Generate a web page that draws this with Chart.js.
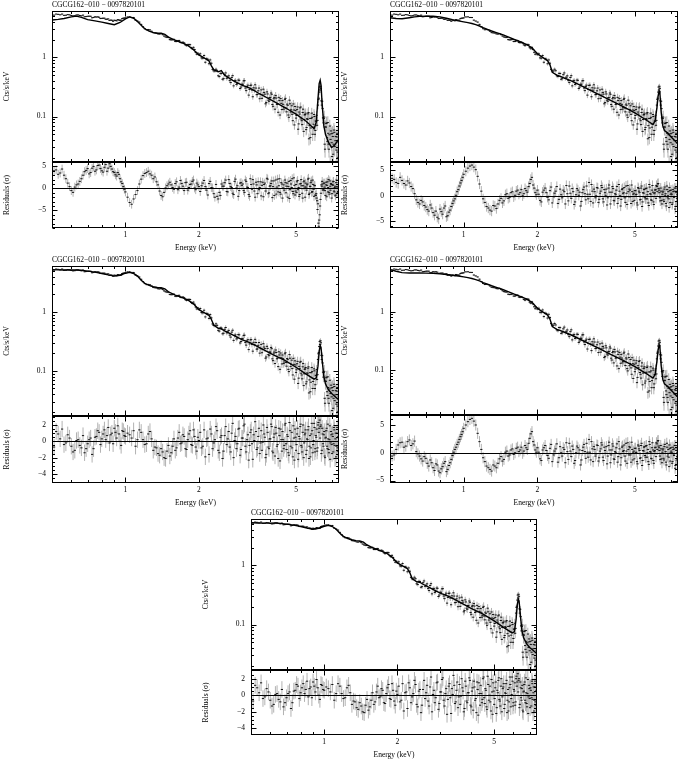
<!DOCTYPE html>
<html>
<head>
<meta charset="utf-8">
<script src="https://cdn.jsdelivr.net/npm/chart.js@4.4.1/dist/chart.umd.min.js"></script>
<style>
  body { margin: 0; background: #fff; width: 678px; height: 761px; position: relative; overflow: hidden; }
  canvas { position: absolute; }
</style>
</head>
<body>
<script>
// ---- data ----
const obsTitle = 'CGCG162\u2212010 \u2212 0097820101';
const xTicks = [1, 2, 5];
const yTicks = [0.1, 1];
const residTicksWide = [-5, 0, 5];
const residTicksNarrow = [-4, -2, 0, 2];

// spectrum bins (keV), first set
const energy = [
  0.50,0.52,0.54,0.56,0.58,0.60,0.62,0.64,0.66,0.68,0.70,0.72,0.74,0.76,0.78,0.80,0.82,0.84,0.86,0.88,0.90,0.92,0.94,0.96,0.98,1.00,
  1.04,1.08,1.12,1.16,1.20,1.24,1.28,1.32,1.36,1.40,1.44,1.48,1.52,1.56,1.60,1.64,1.68,1.72,1.76,1.80,1.84,1.88,1.92,1.96,2.00,
  2.05,2.10,2.15,2.20,2.25,2.30,2.35,2.40,2.45,2.50,2.55,2.60,2.65,2.70,2.75,2.80,2.85,2.90,2.95,3.00,
  3.05,3.10,3.15,3.20,3.25,3.30,3.35,3.40,3.45,3.50,3.55,3.60,3.65,3.70,3.75,3.80,3.85,3.90,3.95,4.00,
  4.05,4.10,4.15,4.20,4.25,4.30,4.35,4.40,4.45,4.50,4.55,4.60,4.65,4.70,4.75,4.80,4.85,4.90,4.95,5.00,
  5.05,5.10,5.15,5.20,5.25,5.30,5.35,5.40,5.45,5.50,5.55,5.60,5.65,5.70,5.75,5.80,5.85,5.90,5.95,6.00,
  6.05,6.10,6.15,6.20,6.25,6.30,6.35,6.40,6.45,6.50,6.55,6.60,6.65,6.70,6.75,6.80,6.85,6.90,6.95,7.00,
  7.05,7.10,7.15,7.20,7.25,7.30,7.35,7.40,7.45,7.50
];
// counts/s/keV
const counts = [
  5.37,5.41,5.26,5.15,5.30,5.12,5.08,5.23,5.05,4.87,4.96,4.97,4.74,4.82,4.78,4.58,4.61,4.43,4.23,4.25,4.26,4.16,4.29,4.27,4.61,4.67,
  4.86,4.73,4.12,3.62,3.06,2.96,2.77,2.60,2.50,2.53,2.30,2.19,2.00,1.99,1.86,1.91,1.79,1.81,1.63,1.64,1.64,1.40,1.36,1.13,1.11,
  0.982,1.076,0.950,0.781,0.797,0.592,0.631,0.489,0.538,0.427,
  0.510,0.443,0.488,0.375,0.491,0.399,0.349,0.414,0.298,0.352,
  0.401,0.303,0.323,0.230,0.336,0.280,0.306,0.344,0.234,0.272,
  0.200,0.282,0.231,0.254,0.164,0.261,0.189,0.210,0.250,0.160,
  0.200,0.133,0.205,0.164,0.211,0.106,0.167,0.186,0.133,0.195,
  0.139,0.162,0.106,0.189,0.119,0.152,0.085,0.129,0.148,0.094,
  0.132,0.061,0.119,0.140,0.091,0.073,0.133,0.089,0.108,0.060,
  0.092,0.111,0.042,0.093,0.064,0.114,0.050,0.074,0.100,0.058,
  0.083,0.071,0.156,0.204,0.315,0.325,0.184,0.181,0.095,0.093,
  0.034,0.067,0.076,0.044,0.079,0.034,0.049,0.017,0.057,0.036,
  0.052,0.023,0.059,0.031,0.039,0.014,0.045,0.025,0.039,0.021
];
// relative 1-sigma errors
const relErr = [
  0.025,0.025,0.025,0.025,0.025,0.025,0.025,0.025,0.025,0.025,0.025,0.025,0.025,0.025,0.025,0.025,0.025,0.025,0.025,0.025,0.025,0.025,0.025,0.025,0.025,0.025,
  0.03,0.03,0.03,0.03,0.03,0.03,0.03,0.03,0.03,0.03,0.04,0.04,0.04,0.04,0.04,0.04,0.04,0.04,0.04,0.05,0.05,0.05,0.05,0.05,0.05,
  0.07,0.07,0.07,0.07,0.07,0.07,0.07,0.07,0.07,0.07,
  0.09,0.09,0.09,0.09,0.09,0.09,0.09,0.09,0.09,0.09,
  0.11,0.11,0.11,0.11,0.11,0.11,0.11,0.11,0.11,0.11,
  0.13,0.13,0.13,0.13,0.13,0.13,0.13,0.13,0.13,0.13,
  0.15,0.15,0.15,0.15,0.15,0.15,0.15,0.15,0.15,0.15,
  0.17,0.17,0.17,0.17,0.17,0.17,0.17,0.17,0.17,0.17,
  0.20,0.20,0.20,0.20,0.20,0.20,0.20,0.20,0.20,0.20,
  0.23,0.23,0.23,0.23,0.23,0.23,0.23,0.23,0.23,0.23,
  0.20,0.18,0.15,0.12,0.10,0.10,0.11,0.13,0.16,0.20,
  0.28,0.28,0.28,0.28,0.28,0.28,0.28,0.28,0.28,0.28,
  0.32,0.32,0.32,0.32,0.32,0.32,0.32,0.32,0.32,0.32
];

// second set of bins, lying between the first ones
const energyOdd = [
  0.51,0.53,0.55,0.57,0.59,0.61,0.63,0.65,0.67,0.69,0.71,0.73,0.75,0.77,0.79,0.81,0.83,0.85,0.87,0.89,0.91,0.93,0.95,0.97,0.99,
  1.02,1.06,1.10,1.14,1.18,1.22,1.26,1.30,1.34,1.38,1.42,1.46,1.50,1.54,1.58,1.62,1.66,1.70,1.74,1.78,1.82,1.86,1.90,1.94,1.98,
  2.025,2.075,2.125,2.175,2.225,2.275,2.325,2.375,2.425,2.475,2.525,2.575,2.625,2.675,2.725,2.775,2.825,2.875,2.925,2.975,
  3.025,3.075,3.125,3.175,3.225,3.275,3.325,3.375,3.425,3.475,3.525,3.575,3.625,3.675,3.725,3.775,3.825,3.875,3.925,3.975,
  4.025,4.075,4.125,4.175,4.225,4.275,4.325,4.375,4.425,4.475,4.525,4.575,4.625,4.675,4.725,4.775,4.825,4.875,4.925,4.975,
  5.025,5.075,5.125,5.175,5.225,5.275,5.325,5.375,5.425,5.475,5.525,5.575,5.625,5.675,5.725,5.775,5.825,5.875,5.925,5.975,
  6.025,6.075,6.125,6.175,6.225,6.275,6.325,6.375,6.425,6.475,6.525,6.575,6.625,6.675,6.725,6.775,6.825,6.875,6.925,6.975,
  7.025,7.075,7.125,7.175,7.225,7.275,7.325,7.375,7.425,7.475
];
const countsOdd = [
  5.19,5.35,5.41,5.17,5.25,5.04,5.22,5.12,5.19,4.91,4.98,4.68,4.86,4.85,4.55,4.60,4.42,4.48,4.28,4.09,4.22,4.36,4.25,4.54,4.62,
  4.84,4.74,4.27,3.96,3.30,2.94,2.92,2.63,2.58,2.48,2.43,2.22,2.18,1.98,2.02,1.86,1.93,1.77,1.76,1.58,1.65,1.46,1.48,1.22,1.18,
  1.152,0.968,0.828,0.930,0.906,0.628,0.588,0.595,0.474,0.535,
  0.437,0.546,0.462,0.405,0.456,0.330,0.409,0.362,0.410,0.315,
  0.351,0.404,0.274,0.339,0.287,0.340,0.216,0.279,0.303,0.236,
  0.303,0.238,0.203,0.290,0.239,0.172,0.241,0.181,0.207,0.238,
  0.149,0.209,0.226,0.160,0.118,0.186,0.201,0.131,0.161,0.141,
  0.203,0.120,0.155,0.097,0.164,0.130,0.109,0.163,0.072,0.126,
  0.104,0.145,0.075,0.110,0.145,0.085,0.117,0.056,0.106,0.114,
  0.065,0.089,0.117,0.070,0.044,0.093,0.097,0.066,0.108,0.050,
  0.084,0.105,0.086,0.195,0.259,0.281,0.300,0.156,0.136,0.078,
  0.098,0.028,0.066,0.078,0.038,0.052,0.028,0.069,0.041,0.051,
  0.021,0.046,0.034,0.054,0.012,0.046,0.027,0.052,0.020,0.036
];
const relErrOdd = [
  0.025,0.025,0.025,0.025,0.025,0.025,0.025,0.025,0.025,0.025,0.025,0.025,0.025,0.025,0.025,0.025,0.025,0.025,0.025,0.025,0.025,0.025,0.025,0.025,0.025,
  0.03,0.03,0.03,0.03,0.03,0.03,0.03,0.03,0.03,0.03,0.04,0.04,0.04,0.04,0.04,0.04,0.04,0.04,0.04,0.05,0.05,0.05,0.05,0.05,0.05,
  0.07,0.07,0.07,0.07,0.07,0.07,0.07,0.07,0.07,0.07,
  0.09,0.09,0.09,0.09,0.09,0.09,0.09,0.09,0.09,0.09,
  0.11,0.11,0.11,0.11,0.11,0.11,0.11,0.11,0.11,0.11,
  0.13,0.13,0.13,0.13,0.13,0.13,0.13,0.13,0.13,0.13,
  0.15,0.15,0.15,0.15,0.15,0.15,0.15,0.15,0.15,0.15,
  0.17,0.17,0.17,0.17,0.17,0.17,0.17,0.17,0.17,0.17,
  0.20,0.20,0.20,0.20,0.20,0.20,0.20,0.20,0.20,0.20,
  0.23,0.23,0.23,0.23,0.23,0.23,0.23,0.23,0.23,0.23,
  0.20,0.19,0.17,0.13,0.11,0.10,0.10,0.12,0.15,0.18,
  0.28,0.28,0.28,0.28,0.28,0.28,0.28,0.28,0.28,0.28,
  0.32,0.32,0.32,0.32,0.32,0.32,0.32,0.32,0.32,0.32
];

// residuals (sigma) per fit
const resid1 = [
  3.8,4.2,3.5,3.0,1.2,-0.5,0.3,1.0,2.2,3.8,4.5,3.6,5.0,4.2,5.3,4.0,4.8,3.9,5.6,4.4,3.6,2.8,3.2,1.5,0.4,-0.8,
  -3.2,-2.4,-0.5,2.1,3.4,3.9,3.0,2.6,0.8,-1.6,-0.9,0.6,1.4,0.2,1.1,-0.3,1.8,0.5,1.3,-0.4,0.9,1.6,0.1,1.2,0.4,
  0.6,1.8,-0.4,1.1,0.2,-1.2,0.9,-2.4,-1.6,0.5,
  1.3,-0.7,2.0,0.4,-1.1,1.6,0.1,-1.8,1.2,0.7,
  -0.5,1.9,0.3,-1.4,2.2,-0.2,1.0,-2.0,0.8,1.5,
  0.2,-1.7,1.4,0.9,-0.6,2.3,-1.2,0.5,1.1,-2.1,
  1.7,0.0,-1.3,2.1,0.6,-0.9,1.3,-2.2,0.8,1.9,
  -1.0,1.2,0.4,-2.3,1.8,0.2,-0.7,2.4,-1.5,0.9,
  1.5,-0.3,-1.8,1.0,2.0,-1.1,0.6,1.7,-2.0,0.3,
  0.8,2.1,-1.4,0.5,1.3,-0.9,1.9,-0.2,0.7,-1.5,
  -1.2,-2.8,-3.5,-8.6,-6.0,-2.5,0.8,1.6,-0.4,1.2,
  0.3,-1.6,1.4,0.7,-0.8,2.0,-1.3,0.5,1.1,-2.2,
  0.9,1.5,-0.6,0.2,-1.7,1.3,0.4,-1.0,1.8,0.6
];
const resid1Odd = [
  4.0,3.2,4.4,2.2,0.4,-0.9,0.8,1.6,3.0,4.1,3.3,4.6,3.9,5.2,4.5,3.7,5.4,4.6,5.0,3.8,3.1,3.6,2.2,1.1,-0.2,
  -2.0,-3.6,-1.4,1.0,2.9,3.6,3.3,2.2,1.5,-0.6,-1.9,0.1,1.0,0.8,-0.2,1.5,0.3,1.1,-0.5,1.4,0.2,1.0,1.9,-0.3,0.8,
  -0.7,1.2,0.4,-1.5,1.6,0.1,-2.0,-1.8,-0.9,1.0,
  0.5,1.9,-0.8,1.1,0.2,-1.4,2.1,0.6,-0.5,1.3,
  1.0,-0.9,1.6,0.2,-1.8,0.9,2.0,-0.6,1.4,-1.2,
  -0.3,1.5,0.7,-1.9,1.2,0.0,2.1,-1.0,0.6,1.7,
  0.4,-1.6,1.9,0.3,-0.8,2.2,-1.3,1.0,0.1,-0.4,
  1.3,0.5,-2.0,1.6,-0.3,1.0,2.2,-1.2,0.7,-0.6,
  -0.9,1.8,0.2,-1.4,1.1,0.6,-2.2,1.5,0.3,1.2,
  -0.4,1.0,2.3,-1.1,0.4,1.7,-0.7,0.9,-1.8,0.6,
  -1.6,-2.2,-4.8,-7.9,-7.2,-4.0,-1.1,0.5,1.0,-0.3,
  1.2,-0.5,0.8,-1.9,1.5,0.2,-0.9,1.7,-0.4,0.9,
  -1.2,0.7,1.6,-0.8,0.5,-1.5,1.9,0.1,-0.7,1.3
];
const resid2 = [
  2.8,3.2,2.4,3.0,2.1,2.5,1.4,-0.8,-1.6,-1.2,-2.2,-3.0,-2.4,-3.8,-4.2,-2.6,-3.6,-2.0,-3.9,-2.8,-1.5,-0.6,0.8,1.9,3.0,4.2,
  5.4,6.0,5.1,2.3,-0.6,-2.1,-2.8,-1.9,-2.5,-0.9,-1.4,0.2,-0.5,0.6,-0.2,0.9,0.3,1.2,0.4,1.0,1.8,3.2,2.1,0.6,1.1,
  -0.9,0.7,1.5,-0.3,1.0,-1.4,0.5,1.8,-0.7,0.2,
  1.1,-1.6,0.4,1.9,-0.5,0.8,-1.2,1.4,0.1,-2.0,
  0.6,1.7,-0.8,0.3,2.6,-1.1,0.9,1.3,-0.4,1.6,
  -1.3,0.5,2.0,-0.6,1.2,0.1,-1.8,1.5,0.7,-0.2,
  1.8,-0.9,0.4,1.1,-1.5,2.2,0.0,-0.7,1.4,0.6,
  -0.4,1.9,-1.7,0.8,1.3,-0.2,2.1,-1.1,0.5,1.0,
  0.2,-1.4,1.6,0.9,-0.8,1.5,-2.1,0.6,1.2,-0.3,
  1.4,-0.6,0.8,-1.9,1.7,0.3,-0.9,2.0,-1.2,0.4,
  1.1,-0.5,1.8,2.3,1.4,0.6,-1.0,0.9,-1.6,0.7,
  -0.8,1.3,0.1,-1.5,1.9,-0.4,0.8,-2.3,1.0,0.3,
  0.5,-1.7,1.2,-0.2,0.9,-2.6,1.5,-1.1,0.2,-2.4
];
const resid2Odd = [
  3.4,2.6,3.6,2.4,2.9,1.8,0.4,-1.3,-0.9,-1.9,-2.7,-1.8,-3.3,-3.0,-4.5,-3.1,-2.4,-4.1,-3.2,-2.1,-1.0,0.1,1.2,2.5,3.6,
  4.8,5.8,5.6,3.8,0.9,-1.3,-2.4,-3.0,-2.0,-1.6,-0.5,-1.0,0.4,-0.3,0.8,0.1,1.1,0.6,0.0,1.4,0.7,2.4,3.6,1.5,0.2,
  0.3,-1.2,1.1,0.6,-0.8,1.7,-0.2,0.9,-1.5,1.3,
  -0.4,0.8,2.0,-1.0,0.5,1.4,-1.7,0.2,1.1,0.7,
  -1.1,1.2,0.4,1.9,-0.6,0.3,2.2,-1.4,0.8,0.0,
  1.5,-0.7,0.9,1.6,-1.2,0.6,1.3,-0.4,2.1,-1.6,
  0.7,1.4,-1.0,0.2,1.8,-0.5,0.9,-2.0,1.2,0.4,
  1.6,-1.3,0.5,2.0,-0.2,1.1,-1.5,0.8,0.3,-0.9,
  1.0,0.3,-1.8,1.4,0.6,-0.7,1.9,-1.2,0.5,1.3,
  -0.6,1.5,0.2,-1.4,2.2,0.4,-0.8,1.1,0.7,-1.7,
  0.6,1.2,2.0,0.8,2.4,1.1,-0.4,1.5,-0.9,0.3,
  0.9,-1.1,1.7,0.4,-2.0,1.2,0.0,-0.6,1.6,-1.3,
  1.1,0.2,-1.4,0.8,-0.3,1.5,-2.1,0.6,-0.5,0.9
];
const resid35 = [
  0.5,1.2,0.3,-0.4,0.8,-0.6,-1.1,0.2,-0.8,-1.4,-0.3,0.4,-0.9,0.6,1.1,0.3,1.4,0.7,-0.2,1.0,1.6,0.4,0.9,-0.5,1.2,0.6,
  0.8,1.3,0.2,1.1,-0.4,0.9,0.3,-0.7,-1.5,-0.9,-2.0,-1.2,-1.8,-0.6,-1.1,0.4,-0.3,0.8,-0.9,0.2,1.3,-0.5,0.6,-1.2,0.1,
  -0.8,1.4,0.3,-1.6,0.9,-0.2,1.8,-1.1,0.5,-2.1,
  0.7,-0.4,1.2,-1.3,2.2,0.1,-0.9,1.5,-1.7,0.4,
  1.9,-0.6,0.2,-2.3,1.1,-0.3,0.8,2.4,-1.0,0.6,
  -1.5,1.3,-0.1,0.9,-2.0,1.7,-0.7,0.3,2.1,-1.2,
  0.5,-1.8,1.0,-0.4,1.6,-2.4,0.2,1.2,-0.9,2.0,
  -0.3,0.8,-1.4,2.3,-0.6,1.1,-1.9,0.4,1.5,-1.1,
  0.9,-2.2,0.6,1.8,-0.5,-1.3,2.0,-0.2,1.0,-1.6,
  0.3,1.4,-2.1,0.7,-0.8,2.2,-1.4,0.1,1.7,-0.9,
  0.5,-1.2,2.0,1.1,2.6,1.8,-1.5,1.6,-0.3,0.8,
  -1.8,0.4,1.3,-0.6,2.1,-1.0,0.2,-2.2,1.2,-0.4,
  0.9,-1.3,1.7,-0.5,0.3,-1.9,1.0,-0.8,0.6,-1.1
];
const resid35Odd = [
  -0.7,0.9,1.5,-0.2,0.4,-1.3,0.1,-0.5,0.7,-0.9,0.2,-1.6,0.5,1.3,-0.4,0.9,0.2,1.7,0.8,-0.3,1.1,1.9,0.0,1.3,0.7,
  1.0,0.4,-0.6,1.4,0.2,-0.3,1.2,-1.1,-0.8,-1.7,-1.3,-2.1,-0.5,-1.4,0.3,-0.8,1.1,-0.2,0.6,-1.0,0.9,-0.4,1.4,-0.7,0.5,
  1.1,-0.6,-1.9,0.4,1.5,-0.9,0.2,1.3,-1.4,0.7,
  -1.2,1.8,0.3,-0.7,1.0,-2.0,0.6,-0.3,1.6,-1.0,
  0.4,2.1,-1.3,0.8,-0.5,1.4,-2.2,0.1,1.2,-0.8,
  1.6,-0.2,-1.1,2.0,0.5,-1.6,1.1,-0.9,0.3,1.8,
  -1.4,0.9,1.7,-0.6,-2.1,0.7,1.5,-1.2,0.2,-0.5,
  2.2,-1.0,0.6,-1.7,1.3,0.0,-0.8,1.9,-2.3,0.5,
  -0.4,1.6,-1.5,0.3,2.1,-0.7,1.1,-2.0,0.8,1.4,
  -1.1,0.2,1.8,-0.6,-1.9,0.9,1.3,-0.4,2.2,-1.3,
  0.7,1.5,-0.8,2.3,1.6,0.4,2.0,-1.1,0.9,-0.6,
  1.2,-2.0,0.5,1.6,-0.9,0.3,-1.4,1.9,-0.2,0.8,
  -1.5,0.6,-0.3,1.4,-2.1,1.0,-0.6,1.7,-1.2,0.4
];
const resid4 = [
  -1.2,-0.4,1.4,1.9,1.2,2.3,1.6,0.2,-0.6,-1.5,-1.0,-2.4,-1.8,-3.2,-2.2,-3.6,-2.5,-1.6,-3.0,-1.8,-0.5,0.6,1.5,2.4,3.3,4.4,
  5.6,6.2,5.0,2.0,-0.9,-2.4,-3.0,-2.2,-2.7,-1.1,-1.5,0.1,-0.6,0.5,-0.3,0.8,0.2,1.0,0.3,0.9,1.7,3.4,2.0,0.5,0.9,
  -1.1,0.5,1.3,-0.5,0.8,-1.6,0.3,1.6,-0.9,0.0,
  0.9,-1.8,0.2,1.7,-0.7,0.6,-1.4,1.2,-0.1,-2.2,
  0.4,1.5,-1.0,0.1,2.4,-1.3,0.7,1.1,-0.6,1.4,
  -1.5,0.3,1.8,-0.8,1.0,-0.1,-2.0,1.3,0.5,-0.4,
  1.6,-1.1,0.2,0.9,-1.7,2.0,-0.2,-0.9,1.2,0.4,
  -0.6,1.7,-1.9,0.6,1.1,-0.4,1.9,-1.3,0.3,0.8,
  0.0,-1.6,1.4,0.7,-1.0,1.3,-2.3,0.4,1.0,-0.5,
  1.2,-0.8,0.6,-2.1,1.5,0.1,-1.1,1.8,-1.4,0.2,
  0.9,-0.7,1.6,2.1,1.2,0.4,-1.2,0.7,-1.8,0.5,
  -1.0,1.1,-0.1,-1.7,1.7,-0.6,0.6,-2.5,0.8,0.1,
  0.3,-1.9,1.0,-0.4,0.7,-2.8,1.3,-1.3,0.0,-2.6
];
const resid4Odd = [
  -0.6,0.6,1.8,1.0,2.0,1.3,2.1,-0.2,-1.1,-0.7,-1.9,-1.3,-2.7,-2.0,-3.3,-2.9,-1.9,-3.4,-2.3,-1.2,0.1,1.0,1.9,2.9,3.8,
  5.0,6.0,5.7,3.5,0.6,-1.6,-2.7,-3.3,-2.4,-1.9,-0.7,-1.2,0.3,-0.4,0.7,0.0,1.0,0.5,-0.1,1.3,0.6,2.6,3.8,1.4,0.1,
  0.1,-1.4,0.9,0.4,-1.0,1.5,-0.4,0.7,-1.7,1.1,
  -0.6,0.6,1.8,-1.2,0.3,1.2,-1.9,0.0,0.9,0.5,
  -1.3,1.0,0.2,1.7,-0.8,0.1,2.0,-1.6,0.6,-0.2,
  1.3,-0.9,0.7,1.4,-1.4,0.4,1.1,-0.6,1.9,-1.8,
  0.5,1.2,-1.2,0.0,1.6,-0.7,0.7,-2.2,1.0,0.2,
  1.4,-1.5,0.3,1.8,-0.4,0.9,-1.7,0.6,0.1,-1.1,
  0.8,0.1,-2.0,1.2,0.4,-0.9,1.7,-1.4,0.3,1.1,
  -0.8,1.3,0.0,-1.6,2.0,0.2,-1.0,0.9,0.5,-1.9,
  0.4,1.0,1.8,0.6,2.2,0.9,-0.6,1.3,-1.1,0.1,
  0.7,-1.3,1.5,0.2,-2.2,1.0,-0.2,-0.8,1.4,-1.5,
  0.9,0.0,-1.6,0.6,-0.5,1.3,-2.3,0.4,-0.7,0.7
];

// model curves
const modelE = [
  0.50,0.53,0.56,0.60,0.63,0.66,0.70,0.75,0.80,0.85,0.90,0.95,1.00,1.04,1.08,1.12,1.16,1.20,1.25,1.30,
  1.35,1.40,1.45,1.50,1.60,1.70,1.80,1.90,2.00,2.10,2.20,2.25,2.30,2.40,2.47,2.55,2.75,3.00,3.25,3.50,
  4.00,4.50,5.00,5.50,5.93,6.05,6.15,6.22,6.28,6.33,6.40,6.50,6.60,6.80,7.00,7.20,7.50
];
const model1 = [
  4.30,4.40,4.55,4.85,5.00,4.75,4.35,4.15,3.95,3.75,3.58,3.90,4.50,4.85,4.60,4.05,3.50,3.05,2.78,2.62,
  2.56,2.58,2.45,2.20,1.95,1.78,1.60,1.35,1.10,0.98,0.87,0.72,0.62,0.57,0.60,0.50,0.41,0.34,0.30,0.25,
  0.185,0.142,0.11,0.083,0.062,0.08,0.20,0.36,0.41,0.34,0.16,0.07,0.05,0.036,0.030,0.033,0.042
];
const model2 = [
  4.70,4.55,4.50,4.70,4.85,4.95,5.00,4.97,4.85,4.60,4.35,4.15,4.00,3.88,3.75,3.58,3.40,3.18,2.98,2.80,
  2.65,2.52,2.40,2.27,2.03,1.84,1.67,1.45,1.15,1.00,0.88,0.75,0.56,0.50,0.48,0.455,0.40,0.335,0.285,0.245,
  0.185,0.145,0.115,0.09,0.073,0.085,0.14,0.22,0.27,0.24,0.12,0.07,0.058,0.053,0.046,0.041,0.034
];
const model35 = [
  5.30,5.23,5.20,5.20,5.21,5.15,5.00,4.80,4.55,4.30,4.10,4.25,4.60,4.75,4.55,4.10,3.50,3.10,2.85,2.72,
  2.63,2.60,2.48,2.22,1.95,1.78,1.62,1.38,1.10,0.98,0.88,0.75,0.60,0.53,0.52,0.48,0.41,0.34,0.30,0.255,
  0.19,0.15,0.115,0.088,0.072,0.075,0.12,0.21,0.27,0.25,0.15,0.08,0.06,0.047,0.041,0.037,0.032
];
const model4 = [
  5.30,4.95,4.70,4.62,4.62,4.63,4.60,4.55,4.47,4.36,4.23,4.10,3.97,3.85,3.72,3.56,3.38,3.17,2.98,2.80,
  2.65,2.52,2.40,2.27,2.03,1.84,1.67,1.45,1.15,1.00,0.88,0.75,0.56,0.50,0.48,0.455,0.40,0.335,0.285,0.245,
  0.185,0.145,0.115,0.09,0.073,0.085,0.14,0.22,0.27,0.24,0.12,0.07,0.058,0.053,0.046,0.041,0.034
];

// ---- layout of the five panels (page pixels) ----
const panels = [
  { L: 52,  R: 338, T: 11,  S: 162, B: 228, model: model1,  resid: resid1.concat(resid1Odd),   rMin: -9,    rMax: 6,    rTicks: residTicksWide },
  { L: 390, R: 677, T: 11,  S: 162, B: 228, model: model2,  resid: resid2.concat(resid2Odd),   rMin: -6.3,  rMax: 6.6,  rTicks: residTicksWide },
  { L: 52,  R: 338, T: 266, S: 416, B: 483, model: model35, resid: resid35.concat(resid35Odd), rMin: -5.1,  rMax: 3.1,  rTicks: residTicksNarrow },
  { L: 390, R: 677, T: 266, S: 415, B: 483, model: model4,  resid: resid4.concat(resid4Odd),   rMin: -5.45, rMax: 6.8,  rTicks: residTicksWide },
  { L: 251, R: 536, T: 519, S: 670, B: 735, model: model35, resid: resid35.concat(resid35Odd), rMin: -4.8,  rMax: 3.05, rTicks: residTicksNarrow }
];

const allE = energy.concat(energyOdd);
const allCounts = counts.concat(countsOdd);
const allRelErr = relErr.concat(relErrOdd);

const FONT = { family: "'Liberation Serif', 'DejaVu Serif', serif", size: 7.5, weight: 'normal' };
const YAXIS_W = 52;
const X_MIN = 0.5, X_MAX = 7.5;
const Y_MIN = 0.017, Y_MAX = 6.1;

function logMinor(min, max, majors) {
  const out = [];
  for (let k = -3; k <= 1; k++) {
    for (let m = 1; m <= 9; m++) {
      const v = +(m * Math.pow(10, k)).toPrecision(3);
      if (v > min && v < max && !majors.includes(v)) out.push(v);
    }
  }
  return out;
}

// grey error bars underneath, frame + inward ticks on top (PGPLOT look)
const frameTicks = {
  id: 'frameTicks',
  beforeDatasetsDraw(chart) {
    const { ctx, chartArea: a, scales: { x, y } } = chart;
    ctx.save();
    ctx.beginPath();
    ctx.rect(a.left, a.top, a.right - a.left, a.bottom - a.top);
    ctx.clip();
    ctx.strokeStyle = '#b2b2b2';
    ctx.lineWidth = 1;
    chart.data.datasets.forEach(ds => {
      if (!ds.yErr) return;
      ctx.beginPath();
      ds.data.forEach((pt, i) => {
        const px = x.getPixelForValue(pt.x);
        const lo = Math.max(pt.y - ds.yErr[i], y.min);
        ctx.moveTo(px, y.getPixelForValue(lo));
        ctx.lineTo(px, y.getPixelForValue(pt.y + ds.yErr[i]));
      });
      ctx.stroke();
    });
    ctx.restore();
  },
  afterDatasetsDraw(chart, args, opts) {
    const { ctx, chartArea: a, scales: { x, y } } = chart;
    const l = Math.round(a.left) + 0.5, r = Math.round(a.right) - 0.5;
    const t = Math.round(a.top) + 0.5, b = Math.round(a.bottom) - 0.5;
    ctx.save();
    ctx.strokeStyle = '#000';
    ctx.lineWidth = 1;
    ctx.beginPath();
    if (opts.zeroLine) {
      const zy = Math.round(y.getPixelForValue(0)) + 0.5;
      ctx.moveTo(l, zy); ctx.lineTo(r, zy);
    }
    const xMinor = logMinor(X_MIN, X_MAX, xTicks);
    const xt = (v, len) => {
      const px = Math.round(x.getPixelForValue(v)) + 0.5;
      ctx.moveTo(px, t); ctx.lineTo(px, t + len);
      ctx.moveTo(px, b); ctx.lineTo(px, b - len);
    };
    xTicks.forEach(v => xt(v, 5));
    xMinor.forEach(v => xt(v, 2.5));
    const yt = (v, len) => {
      const py = Math.round(y.getPixelForValue(v)) + 0.5;
      ctx.moveTo(l, py); ctx.lineTo(l + len, py);
      ctx.moveTo(r, py); ctx.lineTo(r - len, py);
    };
    opts.yMajor.forEach(v => yt(v, 5));
    opts.yMinor.forEach(v => yt(v, 2.5));
    ctx.stroke();
    ctx.strokeRect(l, t, r - l, b - t);
    ctx.restore();
  }
};

function addCanvas(left, top, w, h) {
  const c = document.createElement('canvas');
  c.width = w; c.height = h;
  c.style.left = left + 'px'; c.style.top = top + 'px';
  c.style.width = w + 'px'; c.style.height = h + 'px';
  document.body.appendChild(c);
  return c;
}

const fmt = v => (v < 0 ? '\u2212' + (-v) : String(v));
const yFit = s => { s.width = YAXIS_W; s.paddingTop = 0; s.paddingBottom = 0; };

// data marks: short black bin-width dashes
const dataPoint = { pointStyle: 'line', pointRadius: 1.1, pointBorderColor: '#111', pointBorderWidth: 1 };

function drawPanel(p) {
  const w = p.R - p.L + YAXIS_W + 2;

  // spectrum + model
  const mainCanvas = addCanvas(p.L - YAXIS_W, p.T - 12, w, p.S - p.T + 12);
  new Chart(mainCanvas, {
    type: 'scatter',
    data: {
      datasets: [
        {
          type: 'line',
          data: modelE.map((e, i) => ({ x: e, y: p.model[i] })),
          borderColor: '#000', borderWidth: 1.4, pointRadius: 0, tension: 0, order: 0
        },
        Object.assign({
          data: allE.map((e, i) => ({ x: e, y: allCounts[i] })),
          yErr: allCounts.map((c, i) => c * allRelErr[i]),
          order: 1
        }, dataPoint)
      ]
    },
    options: {
      animation: false, responsive: false, devicePixelRatio: 1, events: [],
      layout: { autoPadding: false, padding: { left: 0, right: 1, top: 0, bottom: 0 } },
      plugins: {
        legend: { display: false },
        tooltip: { enabled: false },
        title: {
          display: true, text: obsTitle, align: 'start', fullSize: false, color: '#000',
          font: FONT, padding: { top: 1.5, bottom: 1.5 }
        },
        frameTicks: { yMajor: yTicks, yMinor: logMinor(Y_MIN, Y_MAX, yTicks), zeroLine: false }
      },
      scales: {
        x: { type: 'logarithmic', min: X_MIN, max: X_MAX, display: false },
        y: {
          type: 'logarithmic', min: Y_MIN, max: Y_MAX,
          afterBuildTicks: s => { s.ticks = yTicks.map(v => ({ value: v })); },
          afterFit: yFit,
          grid: { display: false, drawTicks: false },
          border: { display: false },
          ticks: { callback: v => String(v), color: '#000', font: FONT, padding: 6 },
          title: { display: true, text: 'Cts/s/keV', color: '#000', font: FONT, padding: { top: 2.5, bottom: 0 } }
        }
      }
    },
    plugins: [frameTicks]
  });

  // residuals
  const rh = p.B - p.S + 27;
  const minorStep = (p.rTicks[1] - p.rTicks[0]) === 2 ? 0.5 : 1;
  const rMinor = [];
  for (let v = Math.ceil(p.rMin); v <= p.rMax; v += minorStep) {
    if (!p.rTicks.includes(v)) rMinor.push(v);
  }
  const residCanvas = addCanvas(p.L - YAXIS_W, p.S - 1, w, rh);
  new Chart(residCanvas, {
    type: 'scatter',
    data: {
      datasets: [Object.assign({
        data: allE.map((e, i) => ({ x: e, y: p.resid[i] })),
        yErr: allE.map(() => 1)
      }, dataPoint)]
    },
    options: {
      animation: false, responsive: false, devicePixelRatio: 1, events: [],
      layout: { autoPadding: false, padding: { left: 0, right: 1, top: 1, bottom: 1 } },
      plugins: {
        legend: { display: false },
        tooltip: { enabled: false },
        frameTicks: { yMajor: p.rTicks, yMinor: rMinor, zeroLine: true }
      },
      scales: {
        x: {
          type: 'logarithmic', min: X_MIN, max: X_MAX,
          afterBuildTicks: s => { s.ticks = xTicks.map(v => ({ value: v })); },
          afterFit: s => { s.height = rh - 2 - (p.B - p.S); s.paddingLeft = 0; s.paddingRight = 0; },
          grid: { display: false, drawTicks: false },
          border: { display: false },
          ticks: { callback: v => String(v), color: '#000', font: FONT, padding: 3, maxRotation: 0, autoSkip: false },
          title: { display: true, text: 'Energy (keV)', color: '#000', font: FONT, padding: { top: 0, bottom: 0 } }
        },
        y: {
          type: 'linear', min: p.rMin, max: p.rMax,
          afterBuildTicks: s => { s.ticks = p.rTicks.map(v => ({ value: v })); },
          afterFit: yFit,
          grid: { display: false, drawTicks: false },
          border: { display: false },
          ticks: { callback: fmt, color: '#000', font: FONT, padding: 6 },
          title: { display: true, text: 'Residuals (\u03c3)', color: '#000', font: FONT, padding: { top: 2.5, bottom: 0 } }
        }
      }
    },
    plugins: [frameTicks]
  });
}

panels.forEach(drawPanel);
</script>
</body>
</html>
